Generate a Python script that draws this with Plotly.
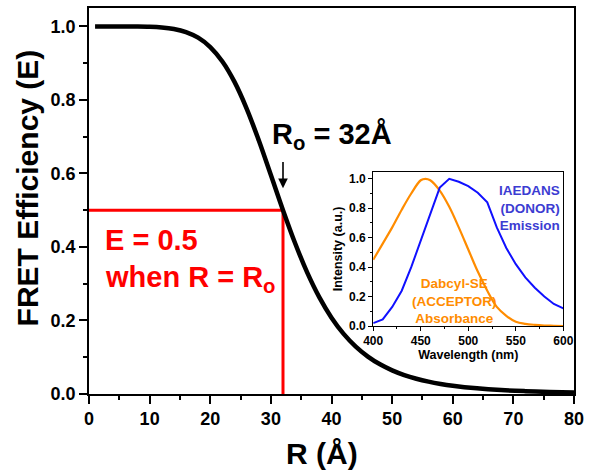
import plotly.graph_objects as go

# Main FRET curve
R_vals = [1, 4, 8, 10, 12, 14, 16, 18, 20, 22, 24, 26, 28, 30, 32, 34, 36, 38, 40,
          42, 44, 46, 48, 50, 52, 54, 56, 58, 60, 64, 68, 72, 76, 80]
E_vals = [1.0, 1.0, 0.9998, 0.9991, 0.9972, 0.993, 0.9846, 0.9693, 0.9438, 0.9045,
          0.849, 0.7766, 0.6902, 0.5956, 0.5, 0.41, 0.3303, 0.2629, 0.2077,
          0.1636, 0.1289, 0.1018, 0.0807, 0.0643, 0.0515, 0.0415, 0.0336, 0.0274,
          0.0225, 0.0154, 0.0107, 0.0077, 0.0055, 0.0041]

# Inset spectra
wl = [400, 410, 420, 430, 440, 450, 455, 460, 470, 480, 490, 500, 510, 520, 530,
      540, 550, 560, 570, 580, 590, 600]
acceptor_abs = [0.45, 0.56, 0.67, 0.79, 0.90, 0.99, 1.0, 0.99, 0.92, 0.81, 0.67,
                0.52, 0.37, 0.24, 0.13, 0.07, 0.03, 0.015, 0.008, 0.004, 0.002, 0.0]
wl_d = [400, 410, 420, 430, 440, 450, 460, 470, 480, 490, 500, 510, 520, 530, 540,
        550, 560, 570, 580, 590, 600]
donor_em = [0.02, 0.045, 0.13, 0.24, 0.40, 0.58, 0.76, 0.94, 1.0, 0.98, 0.95, 0.905,
            0.84, 0.67, 0.53, 0.42, 0.33, 0.26, 0.20, 0.15, 0.12]

R0 = 32
E_half = 0.5

FONT = "Liberation Sans, Arial, sans-serif"
RED = "#ff0000"
ORANGE = "#ff8c00"
BLUE = "#1010ff"
BLUE_TXT = "#3c3cd2"

fig = go.Figure()
fig.add_trace(go.Scatter(x=[0, R0], y=[E_half, E_half], mode="lines",
                         line=dict(color=RED, width=3), xaxis="x", yaxis="y", hoverinfo="skip"))
fig.add_trace(go.Scatter(x=[R0, R0], y=[0, E_half], mode="lines",
                         line=dict(color=RED, width=3), xaxis="x", yaxis="y", hoverinfo="skip"))
fig.add_trace(go.Scatter(x=R_vals, y=E_vals, mode="lines", line=dict(color="black", width=4.5, shape="spline"),
                         xaxis="x", yaxis="y"))
fig.add_trace(go.Scatter(x=wl, y=acceptor_abs, mode="lines", line=dict(color=ORANGE, width=2.2, shape="spline"),
                         xaxis="x2", yaxis="y2"))
fig.add_trace(go.Scatter(x=wl_d, y=donor_em, mode="lines", line=dict(color=BLUE, width=2),
                         xaxis="x2", yaxis="y2"))

axis_common = dict(showline=True, linecolor="black", mirror=True,
                   showgrid=False, zeroline=False, ticks="outside", tickcolor="black")

fig.update_layout(
    width=592, height=470,
    margin=dict(l=89, r=18, t=6, b=76),
    paper_bgcolor="white", plot_bgcolor="white",
    showlegend=False,
    font=dict(family=FONT, color="black"),
    xaxis=dict(**axis_common, linewidth=1.5, range=[0, 80], dtick=10, tick0=0, ticklen=8, tickwidth=1.5,
               minor=dict(ticks="outside", dtick=5, ticklen=4, tickcolor="black", tickwidth=1.5),
               tickfont=dict(size=18, family=FONT, weight="bold")),
    yaxis=dict(**axis_common, linewidth=1.5, range=[0, 1.05], dtick=0.2, tick0=0, tickformat=".1f",
               ticklen=8, tickwidth=1.5,
               minor=dict(ticks="outside", dtick=0.1, ticklen=4, tickcolor="black", tickwidth=1.5),
               tickfont=dict(size=18, family=FONT, weight="bold")),
    xaxis2=dict(**axis_common, linewidth=1, domain=[0.586, 0.978], anchor="y2", range=[400, 600], dtick=50,
                ticklen=4, tickwidth=1,
                minor=dict(ticks="outside", dtick=25, ticklen=2, tickcolor="black"),
                tickfont=dict(size=12, family=FONT, weight="bold"),
                title=dict(text="<b>Wavelength (nm)</b>", font=dict(size=12.5, family=FONT), standoff=2)),
    yaxis2=dict(**axis_common, linewidth=1, domain=[0.176, 0.5755], anchor="x2", range=[0, 1.047], dtick=0.2,
                tickformat=".1f", ticklen=4, tickwidth=1,
                minor=dict(ticks="outside", dtick=0.1, ticklen=2, tickcolor="black"),
                tickfont=dict(size=12, family=FONT, weight="bold"),
                title=dict(text="<b>Intensity (a.u.)</b>", font=dict(size=12.5, family=FONT), standoff=3)),
)

ann = []
# axis titles
ann.append(dict(x=-0.126, y=0.535, xref="paper", yref="paper", xanchor="center", yanchor="middle",
                showarrow=False, textangle=-90, text="<b>FRET Efficiency (E)</b>",
                font=dict(size=30, color="black", family=FONT)))
ann.append(dict(x=0.48, y=-0.155, xref="paper", yref="paper", xanchor="center", yanchor="middle",
                showarrow=False, text="<b>R (Å)</b>", font=dict(size=30, color="black", family=FONT)))
ann.append(dict(x=2.3, y=0.418, xref="x", yref="y", xanchor="left", yanchor="middle", showarrow=False,
                text="<b>E = 0.5</b>", font=dict(size=29, color=RED, family=FONT)))
ann.append(dict(x=2.3, y=0.313, xref="x", yref="y", xanchor="left", yanchor="middle", showarrow=False,
                text="<b>when R = R<sub>o</sub></b>", font=dict(size=29, color=RED, family=FONT)))
ann.append(dict(x=29.8, y=0.703, xref="x", yref="y", xanchor="left", yanchor="middle", showarrow=False,
                text="<b>R<sub>o</sub> = 32Å</b>", font=dict(size=29, color="black", family=FONT)))
ann.append(dict(x=R0, y=0.56, xref="x", yref="y", ax=R0, ay=0.635, axref="x", ayref="y",
                showarrow=True, arrowhead=2, arrowsize=1.2, arrowwidth=1.6, arrowcolor="black", text=""))
ann.append(dict(x=599, y=0.80, xref="x2", yref="y2", xanchor="right", yanchor="middle", showarrow=False,
                align="right", text="<b>IAEDANS<br>(DONOR)<br>Emission</b>",
                font=dict(size=13.5, color=BLUE_TXT, family=FONT)))
ann.append(dict(x=485, y=0.17, xref="x2", yref="y2", xanchor="center", yanchor="middle", showarrow=False,
                align="center", text="<b>Dabcyl-SE<br>(ACCEPTOR)<br>Absorbance</b>",
                font=dict(size=13.5, color=ORANGE, family=FONT)))
fig.update_layout(annotations=ann)

fig.write_html("out.html")
